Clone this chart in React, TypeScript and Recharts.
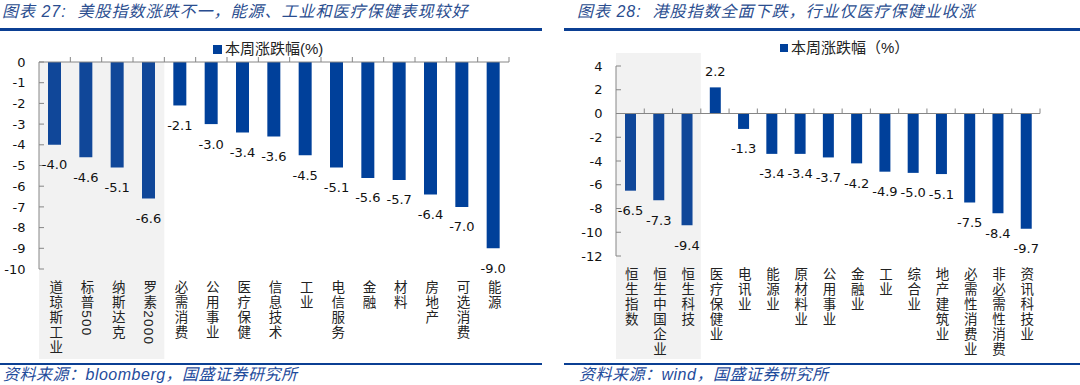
import React from 'react';
import { BarChart, Bar, XAxis, YAxis, Cell, LabelList, ReferenceArea, ReferenceLine, Legend } from 'recharts';

// ---------- data ----------
const usCategories = ['道琼斯工业', '标普500', '纳斯达克', '罗素2000', '必需消费', '公用事业', '医疗保健', '信息技术', '工业', '电信服务', '金融', '材料', '房地产', '可选消费', '能源'];
const usChanges = [-4.0, -4.6, -5.1, -6.6, -2.1, -3.0, -3.4, -3.6, -4.5, -5.1, -5.6, -5.7, -6.4, -7.0, -9.0];
const usTicks = [0, -1, -2, -3, -4, -5, -6, -7, -8, -9, -10];
const usIndexCount = 4;

const hkCategories = ['恒生指数', '恒生中国企业', '恒生科技', '医疗保健业', '电讯业', '能源业', '原材料业', '公用事业', '金融业', '工业', '综合业', '地产建筑业', '必需性消费业', '非必需性消费', '资讯科技业'];
const hkChanges = [-6.5, -7.3, -9.4, 2.2, -1.3, -3.4, -3.4, -3.7, -4.2, -4.9, -5.0, -5.1, -7.5, -8.4, -9.7];
const hkTicks = [4, 2, 0, -2, -4, -6, -8, -10, -12];
const hkIndexCount = 3;

const usTitle = '图表 27:  美股指数涨跌不一，能源、工业和医疗保健表现较好';
const hkTitle = '图表 28:  港股指数全面下跌，行业仅医疗保健业收涨';
const usSource = '资料来源：bloomberg，国盛证券研究所';
const hkSource = '资料来源：wind，国盛证券研究所';
const usLegend = '本周涨跌幅(%)';
const hkLegend = '本周涨跌幅（%）';

// ---------- styles ----------
const NUM_FONT = "'DejaVu Sans', Verdana, sans-serif";
const TEXT_FONT = "'Liberation Sans', 'Noto Sans CJK SC', sans-serif";
const BAR_COLOR = '#00409A';
const BAR_COLOR_INDEX = '#104799';
const SHADE = '#F2F2F2';
const AXIS = '#868686';
const RULE = '#0B3F93';
const TITLE_COLOR = '#2A4D8F';
const SOURCE_COLOR = '#1F4C9C';

const CAT_FONT_SIZE = 13.5;

function VerticalTick(props: any) {
  const { x, y, payload, firstOffset, lineH } = props;
  const label = String(payload?.value ?? '');
  const start = y + firstOffset - lineH / 2;
  return (
    <text x={x} y={start} textAnchor="start"
      style={{ writingMode: 'vertical-rl', textOrientation: 'mixed' } as any}
      letterSpacing={lineH - CAT_FONT_SIZE}
      fontFamily="'Liberation Sans', 'Noto Sans CJK SC', sans-serif" fontSize={CAT_FONT_SIZE} fill="#222">
      {label}
    </text>
  );
}

const renderValueLabel = (props: any) => {
  const vb = props.viewBox && typeof props.viewBox.x === 'number' ? props.viewBox : props;
  const { x, y, width, height } = vb;
  const v = Number(props.value);
  const top = Math.min(y, y + height);
  const bottom = Math.max(y, y + height);
  const cx = x + width / 2;
  const ty = v < 0 ? bottom + 20 : top - 16;
  return (
    <text x={cx} y={ty} textAnchor="middle" dominantBaseline="central" fontFamily={NUM_FONT} fontSize={13} fill="#111">
      {v.toFixed(1)}
    </text>
  );
};

function MarketChart(p: any) {
  const data = p.categories.map((name: string, i: number) => ({ name, value: p.values[i] }));
  const n = data.length;
  const zeroLine = (lp: any) => {
    const { x1, x2, y1 } = lp;
    const step = (x2 - x1) / n;
    const marks = data.map((_: any, i: number) => {
      const xx = x1 + step * (i + 1);
      return <line key={i} x1={xx} x2={xx} y1={y1} y2={y1 - 5} stroke={AXIS} strokeWidth={1} />;
    });
    return (
      <g>
        <line x1={x1} x2={x2} y1={y1} y2={y1} stroke={AXIS} strokeWidth={1} />
        {marks}
      </g>
    );
  };
  const shadeShape = (sp: any) => (
    <rect x={sp.x} y={sp.y - p.shadeTop} width={sp.width} height={sp.height + p.shadeTop + p.shadeBottom} fill={SHADE} stroke="none" />
  );
  return (
    <BarChart width={540} height={385} data={data} margin={p.margin}>
      <ReferenceArea x1={p.categories[0]} x2={p.categories[p.highlight - 1]} ifOverflow="visible"
        shape={shadeShape} fill={SHADE} stroke="none" zIndex={-10} />
      <XAxis dataKey="name" type="category" interval={0} axisLine={false} tickLine={false} tickSize={0} tickMargin={0}
        height={100} tick={<VerticalTick firstOffset={p.firstOffset} lineH={p.lineH} />} />
      <YAxis type="number" domain={p.domain} ticks={p.ticks} interval={0} width={p.yWidth}
        axisLine={{ stroke: AXIS }} tickLine={{ stroke: AXIS }} tickSize={-5} tickMargin={18.5}
        tick={{ fill: '#111', fontSize: 13, fontFamily: NUM_FONT }} />
      <Legend layout="vertical" align="center" verticalAlign="middle"
        wrapperStyle={{ position: 'absolute', left: p.legendLeft, top: p.legendTop, width: 'auto', height: 18 }}
        content={() => (
          <div style={{ display: 'flex', alignItems: 'center', height: 18, whiteSpace: 'nowrap' }}>
            <span style={{ display: 'inline-block', width: p.square, height: p.square, background: BAR_COLOR, marginRight: 3 }} />
            <span style={{ fontFamily: TEXT_FONT, fontSize: 15, color: '#222', lineHeight: '18px' }}>{p.legend}</span>
          </div>
        )} />
      <Bar dataKey="value" barSize={p.barSize} isAnimationActive={false}>
        {data.map((_: any, i: number) => (
          <Cell key={i} fill={i < p.highlight ? BAR_COLOR_INDEX : BAR_COLOR} />
        ))}
        <LabelList dataKey="value" content={renderValueLabel} />
      </Bar>
      <ReferenceLine y={0} ifOverflow="visible" shape={zeroLine} stroke={AXIS} />
    </BarChart>
  );
}

function Header({ left, lineLeft, lineWidth, text }: any) {
  return (
    <>
      <div style={{ position: 'absolute', left, top: 1, height: 22, lineHeight: '22px', fontFamily: TEXT_FONT, fontStyle: 'italic',
        fontSize: 16, letterSpacing: 1, color: TITLE_COLOR, whiteSpace: 'pre' }}>{text}</div>
      <div style={{ position: 'absolute', left: lineLeft, top: 28, width: lineWidth, height: 2.5, background: RULE }} />
    </>
  );
}

function Footer({ left, lineLeft, lineWidth, text }: any) {
  return (
    <>
      <div style={{ position: 'absolute', left: lineLeft, top: 363, width: lineWidth, height: 2, background: RULE }} />
      <div style={{ position: 'absolute', left, top: 364, height: 21, lineHeight: '21px', fontFamily: TEXT_FONT, fontStyle: 'italic',
        fontSize: 16, letterSpacing: 0.5, color: SOURCE_COLOR, whiteSpace: 'pre' }}>{text}</div>
    </>
  );
}

export default function App() {
  return (
    <div style={{ position: 'absolute', left: 0, top: 0, width: 1080, height: 385, background: '#fff', overflow: 'hidden' }}>
      <Header left={2} lineLeft={0} lineWidth={542} text={usTitle} />
      <Header left={577} lineLeft={564} lineWidth={516} text={hkTitle} />
      <div style={{ position: 'absolute', left: 0, top: 0 }}>
        <MarketChart categories={usCategories} values={usChanges} ticks={usTicks} domain={[-10, 0]} highlight={usIndexCount}
          margin={{ top: 62, right: 31, bottom: 16, left: 0 }} yWidth={39} barSize={13}
          shadeTop={0} shadeBottom={90} firstOffset={19} lineH={14.8}
          legend={usLegend} legendLeft={213} legendTop={40} square={9} />
      </div>
      <div style={{ position: 'absolute', left: 540, top: 0 }}>
        <MarketChart categories={hkCategories} values={hkChanges} ticks={hkTicks} domain={[-12, 4]} highlight={hkIndexCount}
          margin={{ top: 66, right: 40, bottom: 29, left: 0 }} yWidth={76} barSize={11}
          shadeTop={13} shadeBottom={103} firstOffset={18.5} lineH={15}
          legend={hkLegend} legendLeft={240} legendTop={39} square={8} />
      </div>
      <Footer left={3} lineLeft={0} lineWidth={542} text={usSource} />
      <Footer left={579} lineLeft={564} lineWidth={516} text={hkSource} />
    </div>
  );
}
